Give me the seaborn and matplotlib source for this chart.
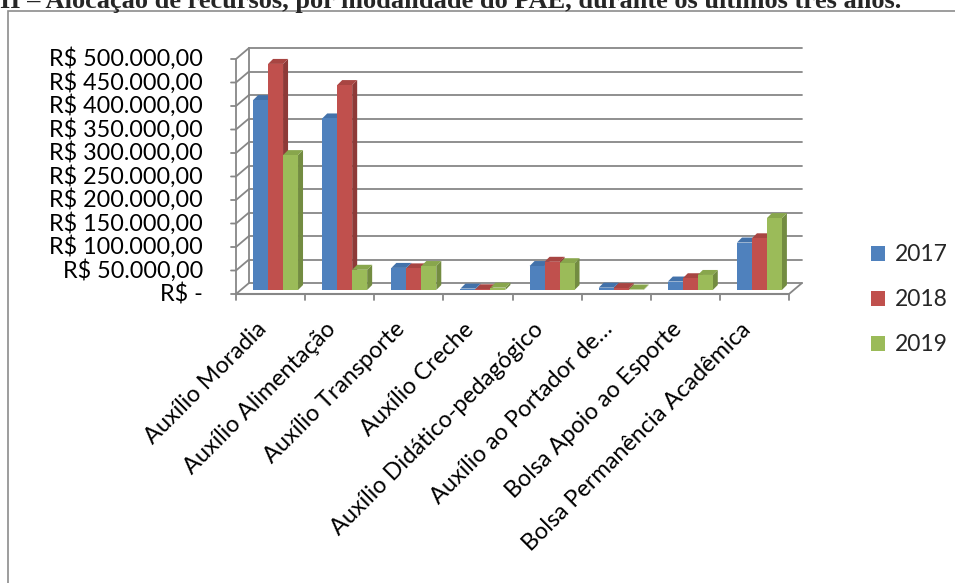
import numpy as np
import pandas as pd
import matplotlib
matplotlib.use('Agg')
import matplotlib.pyplot as plt
import matplotlib.transforms as mtransforms
from matplotlib.patches import Polygon, Rectangle
import seaborn as sns

# --- DATA ---
modalidades = ["Auxílio Moradia", "Auxílio Alimentação", "Auxílio Transporte",
               "Auxílio Creche", "Auxílio Didático-pedagógico",
               "Auxílio ao Portador de…", "Bolsa Apoio ao Esporte",
               "Bolsa Permanência Acadêmica"]
anos = ["2017", "2018", "2019"]
valores_2017 = [404000, 365000, 47000, 3000, 51000, 5000, 18000, 101000]
valores_2018 = [481000, 436000, 46000, 1500, 60000, 4000, 25000, 110000]
valores_2019 = [287000, 43000, 51000, 5000, 57000, 1000, 32000, 153000]
y_ticks = [0, 50000, 100000, 150000, 200000, 250000, 300000, 350000,
           400000, 450000, 500000]
titulo = "II – Alocação de recursos, por modalidade do PAE, durante os últimos três anos."

cores = ["#4F81BD", "#C0504D", "#9BBB59"]
cores_lado = ["#3A6496", "#8E3A38", "#738C41"]
cores_topo = ["#4372AA", "#A84542", "#88A64C"]
GRID = "#878787"


def fmt_real(v):
    if v == 0:
        return "R$ -"
    s = f"{v:,.2f}".replace(",", "X").replace(".", ",").replace("X", ".")
    return "R$ " + s


df = pd.DataFrame({
    "Modalidade": modalidades * 3,
    "Ano": [a for a in anos for _ in modalidades],
    "Valor": valores_2017 + valores_2018 + valores_2019,
})

sns.set_theme(style="white")
plt.rcParams['font.family'] = ['Lato', 'DejaVu Sans']

DPI = 100
W, H = 955, 583
fig = plt.figure(figsize=(W / DPI, H / DPI), dpi=DPI)
# bar plane in pixels: x 241..794, y 290 (zero) .. 55 (top)
ax = fig.add_axes([241 / W, (H - 290) / H, 553 / W, 235 / H])

sns.barplot(data=df, x="Modalidade", y="Valor", hue="Ano", order=modalidades,
            hue_order=anos, palette=cores, saturation=1, width=0.65,
            errorbar=None, ax=ax, zorder=3, linewidth=0)

ax.set_xlim(-0.5, 7.5)
ax.set_ylim(0, 500000)
for s in ax.spines.values():
    s.set_visible(False)
ax.set_xlabel("")
ax.set_ylabel("")
ax.set_yticks([])
ax.set_xticks([])
ax.set_facecolor("none")


def shifted(dx_px, dy_px):
    return ax.transData + mtransforms.ScaledTranslation(dx_px / DPI, dy_px / DPI,
                                                       fig.dpi_scale_trans)


front = shifted(-5, -4)
back = shifted(8, 7)

# back wall gridlines, left wall and value labels
for v in y_ticks:
    ax.plot([-0.5, 7.5], [v, v], color=GRID, lw=1.3, transform=back,
            clip_on=False, zorder=1)
    p0 = front.transform((-0.5, v))
    p1 = back.transform((-0.5, v))
    ax.plot([p0[0] - 5, p0[0], p1[0]], [p0[1], p0[1], p1[1]], color=GRID,
            lw=1.3, transform=None, clip_on=False, zorder=1)
    ax.text(-0.5, v, fmt_real(v), transform=shifted(-38, -4), ha="right",
            va="center", fontsize=16.8, color="black")

ax.plot([-0.5, -0.5], [0, 500000], color=GRID, lw=1.3, transform=back,
        clip_on=False, zorder=1)
ax.plot([-0.5, -0.5], [0, 500000], color=GRID, lw=1.3, transform=front,
        clip_on=False, zorder=1)
# floor
ax.plot([-0.5, 7.5], [0, 0], color=GRID, lw=1.5, transform=front,
        clip_on=False, zorder=4)
fr = front.transform((7.5, 0))
bk = back.transform((7.5, 0))
ax.plot([fr[0], bk[0]], [fr[1], bk[1]], color=GRID, lw=1.3, transform=None,
        clip_on=False, zorder=1)
for b in np.arange(-0.5, 8.0, 1.0):
    p = front.transform((b, 0))
    ax.plot([p[0], p[0]], [p[1], p[1] - 6], color=GRID, lw=1.3,
            transform=None, clip_on=False, zorder=4)

# 3D side and top faces of bars
ddx = 5 * 8 / 553
ddy = 5 * 500000 / 235
for k, cont in enumerate(ax.containers):
    for p in cont:
        x0, w, h = p.get_x(), p.get_width(), p.get_height()
        x1 = x0 + w
        side = Polygon([(x1, 0), (x1, h), (x1 + ddx, h + ddy), (x1 + ddx, ddy)],
                       closed=True, facecolor=cores_lado[k], edgecolor="none",
                       zorder=2)
        top = Polygon([(x0, h), (x1, h), (x1 + ddx, h + ddy), (x0 + ddx, h + ddy)],
                      closed=True, facecolor=cores_topo[k], edgecolor="none",
                      zorder=2)
        ax.add_patch(side)
        ax.add_patch(top)

# category labels, rotated 45 degrees
lbl_tr = shifted(-12, -36)
for i, nome in enumerate(modalidades):
    ax.text(i, 0, nome, transform=lbl_tr, rotation=45, ha="right",
            va="center", rotation_mode="anchor", fontsize=16.8, color="black")

leg = ax.legend(loc="upper left", bbox_to_anchor=(862 / W, 1 - 235 / H),
                bbox_transform=fig.transFigure, frameon=False, fontsize=16.5,
                handlelength=0.62, handleheight=0.62, handletextpad=0.4,
                labelspacing=1.05, borderaxespad=0)

fig.add_artist(Rectangle((8 / W, -0.1), 2, (H - 11) / H + 0.1,
                         transform=fig.transFigure, fill=False,
                         edgecolor="#8C8C8C", lw=1.2))
fig.text(0.0, 1 - 8 / H, titulo, ha="left", va="baseline", fontsize=19,
         fontweight="bold", family=["Liberation Serif", "DejaVu Serif"])

fig.savefig("out.png", dpi=DPI)
